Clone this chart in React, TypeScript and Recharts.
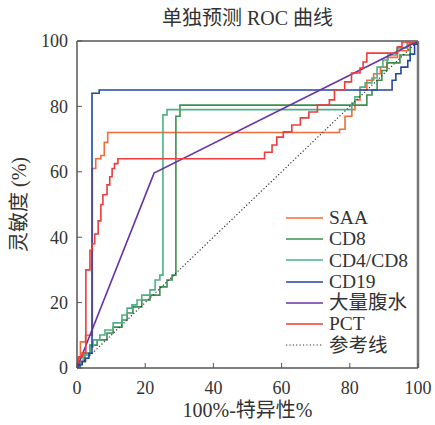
import { LineChart, Line, XAxis, YAxis, ReferenceLine, Legend } from 'recharts';

// ROC curves: each point is (x, y) at the top of a riser, drawn with stepAfter
const SAA: [number, number][] = [
  [0, 0], [0, 3], [1, 8], [2.5, 10], [4.5, 61], [5.5, 64], [7, 65], [8, 69], [9, 72],
  [77, 73], [78.6, 77], [80.6, 79], [81.5, 82], [83, 85], [85, 88], [87, 90], [89, 92],
  [91, 95], [94, 97], [97, 99], [100, 100],
];

const CD8: [number, number][] = [
  [0, 0], [1, 2], [2.3, 4.6], [3.8, 7], [5.9, 8.6], [8.8, 10.7], [10.6, 12.5], [13.2, 14.7],
  [14.7, 16.8], [16.4, 18.7], [19, 20.8], [21.4, 22.3], [24.3, 24.8], [26.4, 26.9],
  [27.9, 28.4], [29, 77], [30.2, 80.4], [85, 83.5], [86.5, 85], [88, 88], [89.4, 91],
  [90.9, 93.3], [94.7, 95.7], [97.7, 99.4], [100, 100],
];

const CD4_CD8: [number, number][] = [
  [0, 0], [0.8, 2], [1.8, 4], [3.8, 6.4], [4.7, 8.6], [6.7, 10.1], [8.2, 11.6], [10.6, 13.8],
  [13.2, 16.2], [14.7, 18.3], [16.1, 19.3], [17.6, 20.8], [19, 22.3], [21.4, 23.9],
  [22.9, 26.9], [24.3, 28.4], [25.2, 77.4], [26.4, 79], [80.6, 81], [81.5, 82.9], [83, 85.9],
  [84.5, 87.2], [86.5, 88.7], [88, 92], [89.7, 94.2], [91.2, 95.7], [93.8, 97.9],
  [96.8, 99.4], [98.5, 100], [100, 100],
];

const CD19: [number, number][] = [
  [0, 0], [0.5, 1], [1.5, 2], [2.5, 3], [3.5, 4.5], [4.4, 84], [6.5, 85], [92.4, 88],
  [93.5, 90], [95, 92], [97, 94], [97.7, 96], [99, 99], [100, 100],
];

const ASCITES: [number, number][] = [[0, 0], [22.6, 59.6], [100, 100]];

const PCT: [number, number][] = [
  [0, 0], [0, 1.8], [0.5, 3.4], [1.5, 4.6], [2.6, 30], [3.8, 36], [4.4, 38], [5.2, 41],
  [6.2, 45], [7, 50], [7.6, 53], [8.8, 56], [9.6, 58.5], [10.3, 61], [11, 62.5], [12, 64],
  [55, 66], [57.2, 68.2], [58.6, 70.6], [60.5, 72.2], [63, 74.3], [65.5, 76.5], [68, 78.3],
  [70.5, 80.4], [74, 82], [75.5, 85], [78.5, 87.5], [80.5, 90.2], [83, 91.7], [83.9, 93.6],
  [85, 96.3], [94, 98.2], [95.3, 99.7], [100, 100],
];

const REFERENCE: [number, number][] = [[0, 0], [100, 100]];

const TICKS = [0, 20, 40, 60, 80, 100];

const FONT = '"Liberation Serif", "Noto Sans CJK SC", serif';
const AXIS = '#555';

const SERIES = [
  { name: 'SAA', points: SAA, color: '#f26b38', type: 'stepAfter', dash: undefined },
  { name: 'CD8', points: CD8, color: '#3d8f4f', type: 'stepAfter', dash: undefined },
  { name: 'CD4/CD8', points: CD4_CD8, color: '#4cb088', type: 'stepAfter', dash: undefined },
  { name: 'CD19', points: CD19, color: '#2445a8', type: 'stepAfter', dash: undefined },
  { name: '大量腹水', points: ASCITES, color: '#6a32a8', type: 'linear', dash: undefined },
  { name: 'PCT', points: PCT, color: '#ee3b3b', type: 'stepAfter', dash: undefined },
  { name: '参考线', points: REFERENCE, color: '#333', type: 'linear', dash: '1.2 2.2' },
];

const toRows = (pts: [number, number][]) => pts.map(([x, y]) => ({ x, y }));

function RocLegend() {
  return (
    <div style={{ fontFamily: FONT, fontSize: 19.5, color: '#333', lineHeight: '21.3px' }}>
      {SERIES.map((s) => (
        <div key={s.name} style={{ display: 'flex', alignItems: 'center', height: 21.3 }}>
          <svg width={37} height={6} style={{ marginRight: 6 }}>
            <line
              x1={0}
              y1={3}
              x2={37}
              y2={3}
              stroke={s.color}
              strokeWidth={s.dash ? 1.2 : 1.6}
              strokeDasharray={s.dash}
            />
          </svg>
          <span style={{ whiteSpace: 'nowrap' }}>{s.name}</span>
        </div>
      ))}
    </div>
  );
}

export default function App() {
  return (
    <div style={{ position: 'absolute', left: 0, top: 0, width: 435, height: 425, background: '#fff' }}>
      <div
        style={{
          position: 'absolute',
          left: 77,
          width: 341,
          top: 7,
          textAlign: 'center',
          fontFamily: FONT,
          fontSize: 20,
          lineHeight: '22px',
          color: '#333',
        }}
      >
        单独预测 ROC 曲线
      </div>
      <LineChart width={435} height={425} margin={{ top: 41, right: 17, bottom: 2, left: 17 }}>
        <XAxis
          dataKey="x"
          type="number"
          domain={[0, 100]}
          ticks={TICKS}
          allowDataOverflow
          height={55}
          axisLine={{ stroke: AXIS, strokeWidth: 1.5 }}
          tickLine={{ stroke: AXIS }}
          tickSize={-5}
          tickMargin={18}
          tick={{ fill: '#333', fontSize: 18, fontFamily: FONT }}
          label={{
            value: '100%-特异性%',
            position: 'insideBottom',
            offset: 6,
            style: { fill: '#333', fontSize: 20, fontFamily: FONT },
          }}
        />
        <YAxis
          dataKey="y"
          type="number"
          domain={[0, 100]}
          ticks={TICKS}
          allowDataOverflow
          width={60}
          axisLine={{ stroke: AXIS, strokeWidth: 1.5 }}
          tickLine={{ stroke: AXIS }}
          tickSize={-5}
          tickMargin={14}
          tick={{ fill: '#333', fontSize: 18, fontFamily: FONT }}
          label={{
            value: '灵敏度 (%)',
            angle: -90,
            position: 'insideLeft',
            offset: 2,
            style: { fill: '#333', fontSize: 20, fontFamily: FONT, textAnchor: 'middle' },
          }}
        />
        <ReferenceLine y={100} stroke={AXIS} strokeWidth={1.5} />
        <ReferenceLine x={100} stroke="#777" strokeWidth={2.5} />
        {SERIES.map((s) => (
          <Line
            key={s.name}
            data={toRows(s.points)}
            dataKey="y"
            name={s.name}
            type={s.type as 'stepAfter' | 'linear'}
            stroke={s.color}
            strokeWidth={s.dash ? 1.2 : 1.6}
            strokeDasharray={s.dash}
            dot={false}
            activeDot={false}
            isAnimationActive={false}
          />
        ))}
        <Legend
          layout="vertical"
          align="center"
          verticalAlign="middle"
          content={() => <RocLegend />}
          wrapperStyle={{ left: 286, top: 207, width: 140 }}
        />
      </LineChart>
    </div>
  );
}
